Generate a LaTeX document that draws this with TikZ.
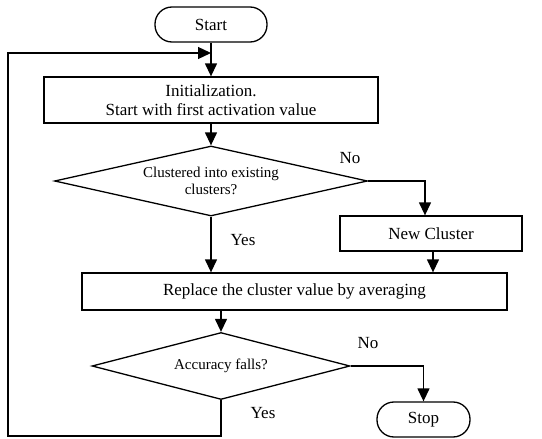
\documentclass[tikz,border=0pt]{standalone}
\usepackage{fontspec}
\setmainfont{Liberation Serif}
\usetikzlibrary{arrows.meta,shapes.geometric}
\begin{document}
\begin{tikzpicture}[x=1pt,y=-1pt,line width=1.3pt,
  >={Triangle[length=13pt,width=12pt]},
  box/.style={draw,rectangle,inner sep=0pt,align=center,font=\fontsize{17}{19}\selectfont},
  term/.style={box,rounded corners=17pt},
  dec/.style={draw,diamond,inner sep=0pt,align=center,font=\fontsize{15}{17}\selectfont},
  lbl/.style={font=\fontsize{17}{19}\selectfont,inner sep=0pt}]
\useasboundingbox (0,0) rectangle (542,439);
\node[term,minimum width=112pt,minimum height=35pt] (start) at (211,24.5) {Start};
\node[box,minimum width=334pt,minimum height=46pt] (init) at (211,100) {Initialization.\\Start with first activation value};
\node[dec,aspect=4.47,minimum width=313pt,minimum height=70pt] (d1) at (211,181) {Clustered into existing\\clusters?};
\node[box,minimum width=182pt,minimum height=35pt] (newc) at (431,233.5) {New Cluster};
\node[box,minimum width=425pt,minimum height=37pt] (repl) at (294.5,291.5) {Replace the cluster value by averaging};
\node[dec,aspect=3.85,minimum width=258pt,minimum height=67pt] (d2) at (221,366) {Accuracy falls?};
\node[term,minimum width=93pt,minimum height=35pt] (stop) at (423.5,419.5) {Stop};
\node[lbl] (no1) at (350,158) {No};
\node[lbl] (yes1) at (243,240) {Yes};
\node[lbl] (no2) at (368,343) {No};
\node[lbl] (yes2) at (263,413) {Yes};
\coordinate (lb) at (8,436);
\coordinate (lt) at (8,53);
\coordinate (lm) at (211,53);
\draw[->] (start.south) -- (init.north);
\draw[->] (init.south) -- (d1.north);
\draw[->] (d1.east) -| ([xshift=-6pt]newc.north);
\draw[->] ([xshift=2pt]newc.south) -- ([xshift=2pt]newc.south |- repl.north);
\draw[->] (d1.south) -- (d1.south |- repl.north);
\draw[->] (d2.north |- repl.south) -- (d2.north);
\draw[->] (d2.east) -| (stop.north);
\draw[->] (d2.south) |- (lb) -- (lt) -- (lm);
\end{tikzpicture}
\end{document}
